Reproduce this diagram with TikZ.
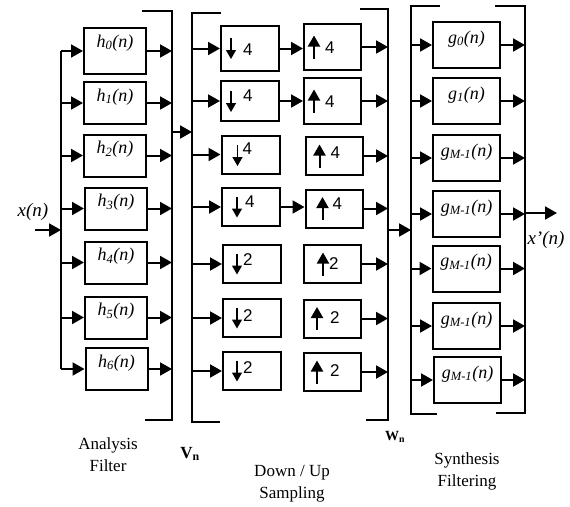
\documentclass[tikz,border=0pt]{standalone}
\usepackage{fontspec}
\setmainfont{Liberation Serif}
\setsansfont{Liberation Sans}
\usepackage{tikz}
\usetikzlibrary{arrows.meta,positioning,calc}
\tikzset{
  filterbox/.style={draw,line width=2pt,minimum width=62pt,inner xsep=0pt,inner ysep=0pt,
              text height=19pt,text depth=23pt,font=\fontsize{18}{18}\selectfont\itshape},
  synthbox/.style={draw,line width=2pt,minimum width=67pt,inner xsep=0pt,inner ysep=0pt,
              text height=21pt,text depth=25pt,font=\fontsize{18}{18}\selectfont\itshape},
  ratebox/.style={draw,line width=2pt,minimum height=38pt,text width=58pt,inner xsep=0pt,
              align=left,font=\fontsize{17}{17}\selectfont\sffamily},
  flow/.style={-{Triangle[length=12pt,width=13pt]},line width=2pt},
  bus/.style={line width=2pt},
  note/.style={font=\fontsize{17}{22}\selectfont,align=center},
  sublabel/.style={font=\fontsize{17}{17}\selectfont\bfseries},
  dnarrow/.style={line width=1.3pt,-{Triangle[length=9pt,width=10pt]}},
  uparrow/.style={line width=2pt,-{Triangle[length=11pt,width=12pt]}}
}
\newcommand{\dnsym}{\tikz[baseline=0pt]\draw[dnarrow] (0pt,17pt) -- (0pt,-4pt);}
\newcommand{\upsym}{\tikz[baseline=0pt]\draw[uparrow] (0pt,-5pt) -- (0pt,18pt);}
\begin{document}
\begin{tikzpicture}[x=1pt,y=-1pt]
  \useasboundingbox (0,0) rectangle (570,506);
  \node[filterbox,text depth=27pt] (h0) at (115,51) {h\textsubscript{0}(n)};
  \node[filterbox] (h1) at (115,103) {h\textsubscript{1}(n)};
  \node[filterbox] (h2) at (115,155.5) {h\textsubscript{2}(n)};
  \node[filterbox] (h3) at (116,208.5) {h\textsubscript{3}(n)};
  \node[filterbox] (h4) at (116,262.5) {h\textsubscript{4}(n)};
  \node[filterbox] (h5) at (116,317.5) {h\textsubscript{5}(n)};
  \node[filterbox] (h6) at (116.5,369) {h\textsubscript{6}(n)};

  \node[ratebox,minimum height=45pt] (d1) at (250,48.5) {\hspace*{5pt}\dnsym\hspace*{7pt}4};
  \node[ratebox,minimum height=40pt] (d2) at (250,101) {\hspace*{5pt}\dnsym\hspace*{7pt}\raisebox{7pt}{4}};
  \node[ratebox] (d3) at (250.5,154.5) {\hspace*{11pt}\dnsym\hspace*{0pt}\raisebox{8pt}{4}};
  \node[ratebox] (d4) at (251,207) {\hspace*{10pt}\dnsym\hspace*{3pt}\raisebox{6pt}{4}};
  \node[ratebox] (d5) at (252,264) {\hspace*{9pt}\dnsym\hspace*{1pt}\raisebox{5pt}{2}};
  \node[ratebox] (d6) at (252,318) {\hspace*{9pt}\dnsym\hspace*{1pt}\raisebox{3pt}{2}};
  \node[ratebox] (d7) at (252,371) {\hspace*{9pt}\dnsym\hspace*{1pt}\raisebox{4pt}{2}};

  \node[ratebox,text width=57pt,minimum height=46pt] (u1) at (332.5,47) {\hspace*{4pt}\upsym\hspace*{5pt}4};
  \node[ratebox,text width=57pt,minimum height=46pt] (u2) at (332.5,101) {\hspace*{4pt}\upsym\hspace*{5pt}4};
  \node[ratebox,text width=57pt] (u3) at (334,156) {\hspace*{8pt}\upsym\hspace*{5pt}\raisebox{4pt}{4}};
  \node[ratebox,text width=57pt] (u4) at (334,208.5) {\hspace*{11pt}\upsym\hspace*{4pt}\raisebox{6pt}{4}};
  \node[ratebox,text width=57pt] (u5) at (332.5,264) {\hspace*{13pt}\upsym\hspace*{0pt}\raisebox{1pt}{2}};
  \node[ratebox,text width=57pt] (u6) at (332.5,318.5) {\hspace*{7pt}\upsym\hspace*{7pt}\raisebox{2pt}{2}};
  \node[ratebox,text width=57pt] (u7) at (332.5,372) {\hspace*{7pt}\upsym\hspace*{7pt}\raisebox{2pt}{2}};

  \node[synthbox] (g0) at (466.5,45) {g\textsubscript{0}(n)};
  \node[synthbox] (g1) at (466.5,101) {g\textsubscript{1}(n)};
  \node[synthbox] (g2) at (466.5,158) {g\textsubscript{M-1}(n)};
  \node[synthbox] (g3) at (466.5,214) {g\textsubscript{M-1}(n)};
  \node[synthbox] (g4) at (466,268.5) {g\textsubscript{M-1}(n)};
  \node[synthbox] (g5) at (466.5,326) {g\textsubscript{M-1}(n)};
  \node[synthbox] (g6) at (467.5,380) {g\textsubscript{M-1}(n)};

  \node[font=\fontsize{19}{19}\selectfont\itshape] (xlabel) at (33,212) {x(n)};
  \node[font=\fontsize{19}{19}\selectfont\itshape] (xoutlabel) at (546,240) {x’(n)};
  \node[note] (analysis) at (108,455) {Analysis\\Filter};
  \node[sublabel] (vlabel) at (190,454) {V\textsubscript{n}};
  \node[sublabel,font=\fontsize{14}{14}\selectfont\bfseries] (wlabel) at (395,437) {W\textsubscript{n}};
  \node[note] (rate) at (292,484) {Down / Up\\Sampling};
  \node[note] (synth) at (467,471) {Synthesis\\Filtering};

  \coordinate (busin) at (61,51);
  \coordinate (xin) at (35,230);
  \coordinate (aTL) at (142,11);
  \coordinate (aT) at (172,11);
  \coordinate (aB) at (172,420);
  \coordinate (aBL) at (145,420);
  \coordinate (vTR) at (221,13);
  \coordinate (vT) at (192,13);
  \coordinate (vB) at (192,422);
  \coordinate (vBR) at (220,422);
  \coordinate (wTL) at (360,9);
  \coordinate (wT) at (388,9);
  \coordinate (wB) at (388,420);
  \coordinate (wBL) at (366,420);
  \coordinate (sTR) at (440,6);
  \coordinate (sT) at (411,6);
  \coordinate (sB) at (411,414);
  \coordinate (sBR) at (437,414);
  \coordinate (yTL) at (495,6);
  \coordinate (yT) at (525,6);
  \coordinate (yB) at (525,413);
  \coordinate (yBL) at (496,413);
  \coordinate (vin) at (192,132);
  \coordinate (win) at (411,230);
  \coordinate (xout) at (557,213);

  \draw[bus] (h0.west -| busin) -- (h6.west -| busin);
  \draw[flow] (xin) -- (xin -| busin);
  \draw[bus] (aTL) -- (aT) -- (aB) -- (aBL);
  \draw[bus] (vTR) -- (vT) -- (vB) -- (vBR);
  \draw[bus] (wTL) -- (wT) -- (wB) -- (wBL);
  \draw[bus] (sTR) -- (sT) -- (sB) -- (sBR);
  \draw[bus] (yTL) -- (yT) -- (yB) -- (yBL);
  \draw[flow] (aT |- vin) -- (vin);
  \draw[flow] (wT |- win) -- (win);
  \draw[flow] (yT |- xout) -- (xout);

  \draw[flow] (h0.west -| busin) -- (h0.west);
  \draw[flow] (h1.west -| busin) -- (h1.west);
  \draw[flow] (h2.west -| busin) -- (h2.west);
  \draw[flow] (h3.west -| busin) -- (h3.west);
  \draw[flow] (h4.west -| busin) -- (h4.west);
  \draw[flow] (h5.west -| busin) -- (h5.west);
  \draw[flow] (h6.west -| busin) -- (h6.west);
  \draw[flow] (h0.east) -- (h0.east -| aT);
  \draw[flow] (h1.east) -- (h1.east -| aT);
  \draw[flow] (h2.east) -- (h2.east -| aT);
  \draw[flow] (h3.east) -- (h3.east -| aT);
  \draw[flow] (h4.east) -- (h4.east -| aT);
  \draw[flow] (h5.east) -- (h5.east -| aT);
  \draw[flow] (h6.east) -- (h6.east -| aT);

  \draw[flow] (d1.west -| vT) -- (d1.west);
  \draw[flow] (d2.west -| vT) -- (d2.west);
  \draw[flow] (d3.west -| vT) -- (d3.west);
  \draw[flow] (d4.west -| vT) -- (d4.west);
  \draw[flow] (d5.west -| vT) -- (d5.west);
  \draw[flow] (d6.west -| vT) -- (d6.west);
  \draw[flow] (d7.west -| vT) -- (d7.west);
  \draw[flow] (d1.east) -- (d1.east -| u1.west);
  \draw[flow] (d2.east) -- (d2.east -| u2.west);
  \draw[flow] (d4.east) -- (d4.east -| u4.west);
  \draw[flow] (u1.east) -- (u1.east -| wT);
  \draw[flow] (u2.east) -- (u2.east -| wT);
  \draw[flow] (u3.east) -- (u3.east -| wT);
  \draw[flow] (u4.east) -- (u4.east -| wT);
  \draw[flow] (u5.east) -- (u5.east -| wT);
  \draw[flow] (u6.east) -- (u6.east -| wT);
  \draw[flow] (u7.east) -- (u7.east -| wT);

  \draw[flow] (g0.west -| sT) -- (g0.west);
  \draw[flow] (g1.west -| sT) -- (g1.west);
  \draw[flow] (g2.west -| sT) -- (g2.west);
  \draw[flow] (g3.west -| sT) -- (g3.west);
  \draw[flow] (g4.west -| sT) -- (g4.west);
  \draw[flow] (g5.west -| sT) -- (g5.west);
  \draw[flow] (g6.west -| sT) -- (g6.west);
  \draw[flow] (g0.east) -- (g0.east -| yT);
  \draw[flow] (g1.east) -- (g1.east -| yT);
  \draw[flow] (g2.east) -- (g2.east -| yT);
  \draw[flow] (g3.east) -- (g3.east -| yT);
  \draw[flow] (g4.east) -- (g4.east -| yT);
  \draw[flow] (g5.east) -- (g5.east -| yT);
  \draw[flow] (g6.east) -- (g6.east -| yT);
\end{tikzpicture}
\end{document}
